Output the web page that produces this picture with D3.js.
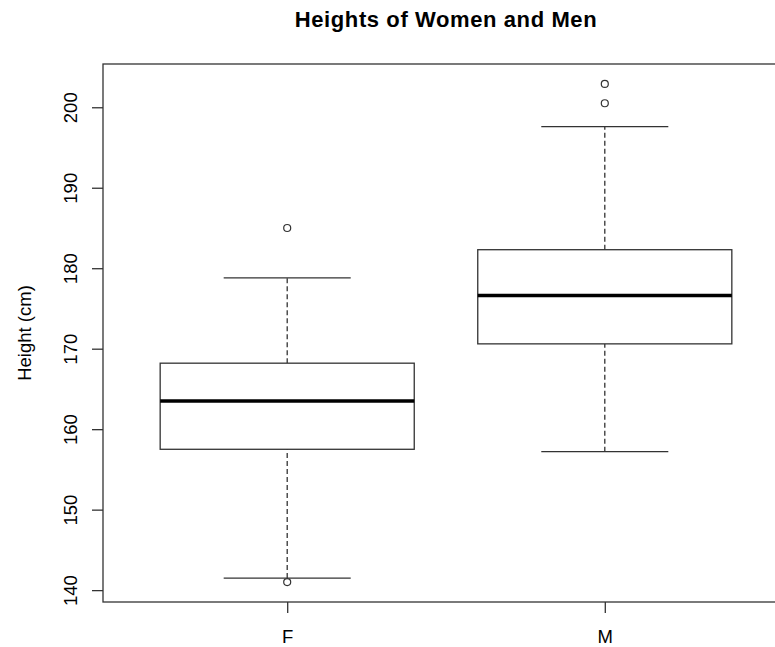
<!DOCTYPE html>
<html>
<head>
<meta charset="utf-8">
<script src="https://cdn.jsdelivr.net/npm/d3@7"></script>
<style>
  body { margin: 0; background: #fff; }
  svg { display: block; font-family: Arial, "Liberation Sans", sans-serif; }
</style>
</head>
<body>
<div id="chart"></div>
<script>
// box statistics
const groups = ["F", "M"];
const lowWhisker = [141.5, 157.2];
const q1 = [157.5, 170.6];
const median = [163.5, 176.6];
const q3 = [168.2, 182.3];
const highWhisker = [178.8, 197.6];
const outliers = [[185.0, 141.0], [200.5, 202.9]];
const yTicks = [140, 150, 160, 170, 180, 190, 200];

const width = 775, height = 647;
const plot = {left: 103, top: 64, bottom: 602, right: 789};

const svg = d3.select("#chart").append("svg")
    .attr("width", width)
    .attr("height", height);

// R style limits: data range padded by 4%
const allVals = lowWhisker.concat(highWhisker, outliers.flat());
const [lo, hi] = d3.extent(allVals);
const pad = (hi - lo) * 0.04;

const y = d3.scaleLinear()
    .domain([lo - pad, hi + pad])
    .range([plot.bottom, plot.top]);

const xPad = (groups.length) * 0.04;
const x = d3.scaleLinear()
    .domain([0.5 - xPad, groups.length + 0.5 + xPad])
    .range([plot.left, plot.right]);

const boxHalf = (x(1.4) - x(1));
const capHalf = boxHalf / 2;
const stroke = "#333";

// title
svg.append("text")
    .attr("x", (plot.left + plot.right) / 2)
    .attr("y", 27)
    .attr("text-anchor", "middle")
    .style("font-size", "22px")
    .style("font-weight", "bold")
    .style("letter-spacing", "0.6px")
    .text("Heights of Women and Men");

// y axis
const yAxis = svg.append("g")
    .attr("transform", "translate(" + plot.left + ",0)")
    .call(d3.axisLeft(y).tickValues(yTicks).tickSize(11).tickFormat(d3.format("d")));
yAxis.select(".domain").remove();
yAxis.selectAll(".tick line").attr("stroke", stroke).attr("stroke-width", 1.3);
yAxis.selectAll(".tick text")
    .attr("x", 0).attr("dy", 0)
    .attr("transform", "translate(-26,0) rotate(-90)")
    .attr("text-anchor", "middle")
    .attr("fill", "#000")
    .style("font-size", "18.5px")
    .style("font-family", "Arial, 'Liberation Sans', sans-serif");

// x axis
const xAxis = svg.append("g")
    .attr("transform", "translate(0," + plot.bottom + ")")
    .call(d3.axisBottom(x).tickValues(d3.range(1, groups.length + 1))
      .tickSize(11).tickFormat(i => groups[i - 1]));
xAxis.select(".domain").remove();
xAxis.selectAll(".tick line").attr("stroke", stroke).attr("stroke-width", 1.3);
xAxis.selectAll(".tick text")
    .attr("y", 41).attr("dy", 0)
    .attr("fill", "#000")
    .style("font-size", "18.5px")
    .style("font-family", "Arial, 'Liberation Sans', sans-serif");

// y label
svg.append("text")
    .attr("transform", "translate(31," + ((plot.top + plot.bottom) / 2) + ") rotate(-90)")
    .attr("text-anchor", "middle")
    .style("font-size", "18.5px")
    .text("Height (cm)");

// frame
svg.append("rect")
    .attr("x", plot.left)
    .attr("y", plot.top)
    .attr("width", plot.right - plot.left)
    .attr("height", plot.bottom - plot.top)
    .attr("fill", "none")
    .attr("stroke", stroke)
    .attr("stroke-width", 1.3);

// boxes
const data = groups.map((g, i) => ({
  name: g, pos: i + 1,
  lo: lowWhisker[i], q1: q1[i], med: median[i], q3: q3[i], hi: highWhisker[i],
  out: outliers[i]
}));

const box = svg.selectAll(".box")
    .data(data)
  .enter().append("g")
    .attr("class", "box");

// dashed whiskers
box.append("line")
    .attr("x1", d => x(d.pos)).attr("x2", d => x(d.pos))
    .attr("y1", d => y(d.lo)).attr("y2", d => y(d.q1))
    .attr("stroke", stroke).attr("stroke-width", 1.3)
    .attr("stroke-dasharray", "5,3");
box.append("line")
    .attr("x1", d => x(d.pos)).attr("x2", d => x(d.pos))
    .attr("y1", d => y(d.q3)).attr("y2", d => y(d.hi))
    .attr("stroke", stroke).attr("stroke-width", 1.3)
    .attr("stroke-dasharray", "5,3");

// whisker caps
box.selectAll(".cap")
    .data(d => [{p: d.pos, v: d.lo}, {p: d.pos, v: d.hi}])
  .enter().append("line")
    .attr("class", "cap")
    .attr("x1", d => x(d.p) - capHalf).attr("x2", d => x(d.p) + capHalf)
    .attr("y1", d => y(d.v)).attr("y2", d => y(d.v))
    .attr("stroke", stroke).attr("stroke-width", 1.3);

// box
box.append("rect")
    .attr("x", d => x(d.pos) - boxHalf)
    .attr("y", d => y(d.q3))
    .attr("width", boxHalf * 2)
    .attr("height", d => y(d.q1) - y(d.q3))
    .attr("fill", "#fff")
    .attr("stroke", stroke).attr("stroke-width", 1.3);

// median
box.append("line")
    .attr("x1", d => x(d.pos) - boxHalf).attr("x2", d => x(d.pos) + boxHalf)
    .attr("y1", d => y(d.med)).attr("y2", d => y(d.med))
    .attr("stroke", "#000").attr("stroke-width", 3.5);

// outliers
box.selectAll(".out")
    .data(d => d.out.map(v => ({p: d.pos, v: v})))
  .enter().append("circle")
    .attr("class", "out")
    .attr("cx", d => x(d.p))
    .attr("cy", d => y(d.v))
    .attr("r", 3.5)
    .attr("fill", "#fff")
    .attr("stroke", stroke).attr("stroke-width", 1.2);
</script>
</body>
</html>
